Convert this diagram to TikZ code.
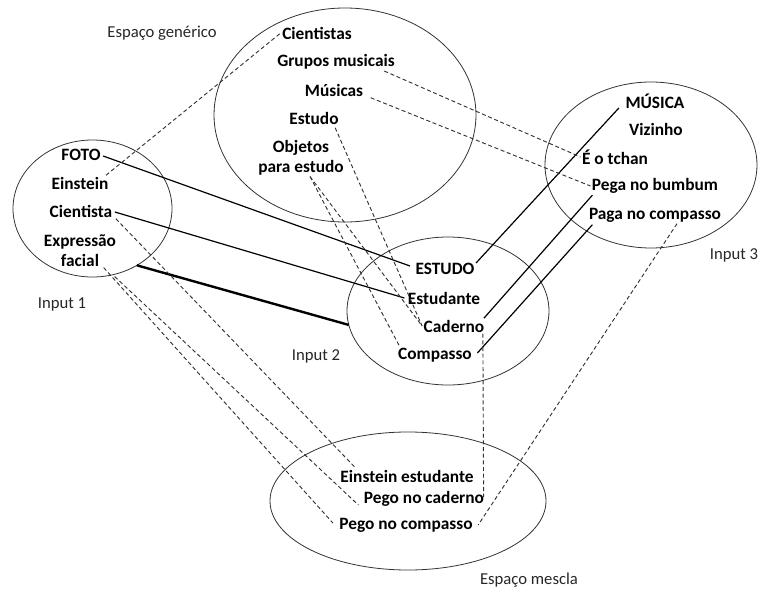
\documentclass[tikz,border=0pt]{standalone}
\usepackage{fontspec}
\setmainfont{Carlito}
\usetikzlibrary{shapes.geometric,calc}
\begin{document}
\begin{tikzpicture}[x=0.75pt,y=-0.75pt,
  space/.style={draw, ellipse, inner sep=0pt, outer sep=0pt, line width=0.6pt, black!80},
  term/.style={font=\fontsize{13}{15}\selectfont\bfseries, inner sep=1pt, align=center, text=black},
  tag/.style={font=\fontsize{12.5}{14}\selectfont, inner sep=1pt, text=black!85},
  map/.style={line width=0.9pt},
  strong/.style={line width=1.8pt},
  link/.style={dash pattern=on 3pt off 2pt, line width=0.7pt, black!80}]
\useasboundingbox (0,0) rectangle (758,589);

% the five mental spaces
\node[space, minimum width=119.25pt, minimum height=102.75pt] (in1) at (92.5,208.5) {};
\node[space, minimum width=196.5pt, minimum height=160.5pt] (gen) at (345,115) {};
\node[space, minimum width=151.5pt, minimum height=111pt] (in2) at (448,311) {};
\node[space, minimum width=159pt, minimum height=124.5pt] (in3) at (651,165) {};
\node[space, minimum width=207pt, minimum height=103.5pt] (blend) at (408,501) {};

% space names
\node[tag] (tgen) at (162,33) {Espaço genérico};
\node[tag] (tin1) at (62,304) {Input 1};
\node[tag] (tin2) at (316,356) {Input 2};
\node[tag] (tin3) at (734,255) {Input 3};
\node[tag] (tblend) at (529,580) {Espaço mescla};

% generic space
\node[term] (g1) at (317,33) {Cientistas};
\node[term] (g2) at (336,62) {Grupos musicais};
\node[term] (g3) at (334,90) {Músicas};
\node[term] (g4) at (314,118) {Estudo};
\node[term] (g5) at (301,157.5) {Objetos\\para estudo};

% input 1
\node[term] (a1) at (81,155) {FOTO};
\node[term] (a2) at (80,183) {Einstein};
\node[term] (a3) at (81,211) {Cientista};
\node[term] (a4) at (80,251) {Expressão\\facial};

% input 2
\node[term] (b1) at (445,269) {ESTUDO};
\node[term] (b2) at (444,298) {Estudante};
\node[term] (b3) at (454,326) {Caderno};
\node[term] (b4) at (435,355) {Compasso};

% input 3
\node[term] (c1) at (655,101) {MÚSICA};
\node[term] (c2) at (656,129) {Vizinho};
\node[term] (c3) at (615,157) {É o tchan};
\node[term] (c4) at (655,186) {Pega no bumbum};
\node[term] (c5) at (655,215) {Paga no compasso};

% blend
\node[term] (d1) at (407,476) {Einstein estudante};
\node[term] (d2) at (424,499) {Pego no caderno};
\node[term] (d3) at (406,525) {Pego no compasso};

% cross-space mappings
\draw[map] ($(a1.east)+(1,1)$) -- ($(b1.west)+(-4,-3)$);
\draw[map] ($(a3.east)+(1,1)$) -- ($(b2.west)+(-2,0)$);
\draw[strong] (in1.-52) -- (in2.188);
\draw[map] ($(b1.east)+(0,-6)$) -- ($(c1.south west)+(-5,-2)$);
\draw[map] ($(b3.north east)+(-2,0)$) -- ($(c4.south west)+(2,0)$);
\draw[map] ($(b4.east)+(4,-2)$) -- ($(c5.south west)+(5,1)$);

% projections from the generic space and into the blend
\draw[link] ($(a2.north east)+(-4,0)$) -- (g1.west);
\draw[link] ($(g2.south east)+(-12,0)$) -- (c3.west);
\draw[link] ($(g3.south east)+(6,0)$) -- (c4.west);
\draw[link] ($(g4.south east)+(-5,2)$) -- (b3.west);
\draw[link] ($(g5.south)+(9,0)$) -- (b3.west);
\draw[link] ($(g5.south)+(9,0)$) -- ($(b4.north west)+(3,0)$);
\draw[link] ($(a3.south east)+(2,0)$) -- ($(d1.north west)+(17,0)$);
\draw[link] ($(a4.south east)+(-14,-1)$) -- ($(d3.west)+(-5,-2)$);
\draw[link] ($(a4.south east)+(-3,8)$) -- ($(d2.west)+(-4,6)$);
\draw[link] ($(b3.south east)+(-3,0)$) -- ($(d2.east)+(-2,-2)$);
\draw[link] ($(c5.south)+(22,0)$) -- ($(d3.east)+(4,0)$);
\end{tikzpicture}
\end{document}
